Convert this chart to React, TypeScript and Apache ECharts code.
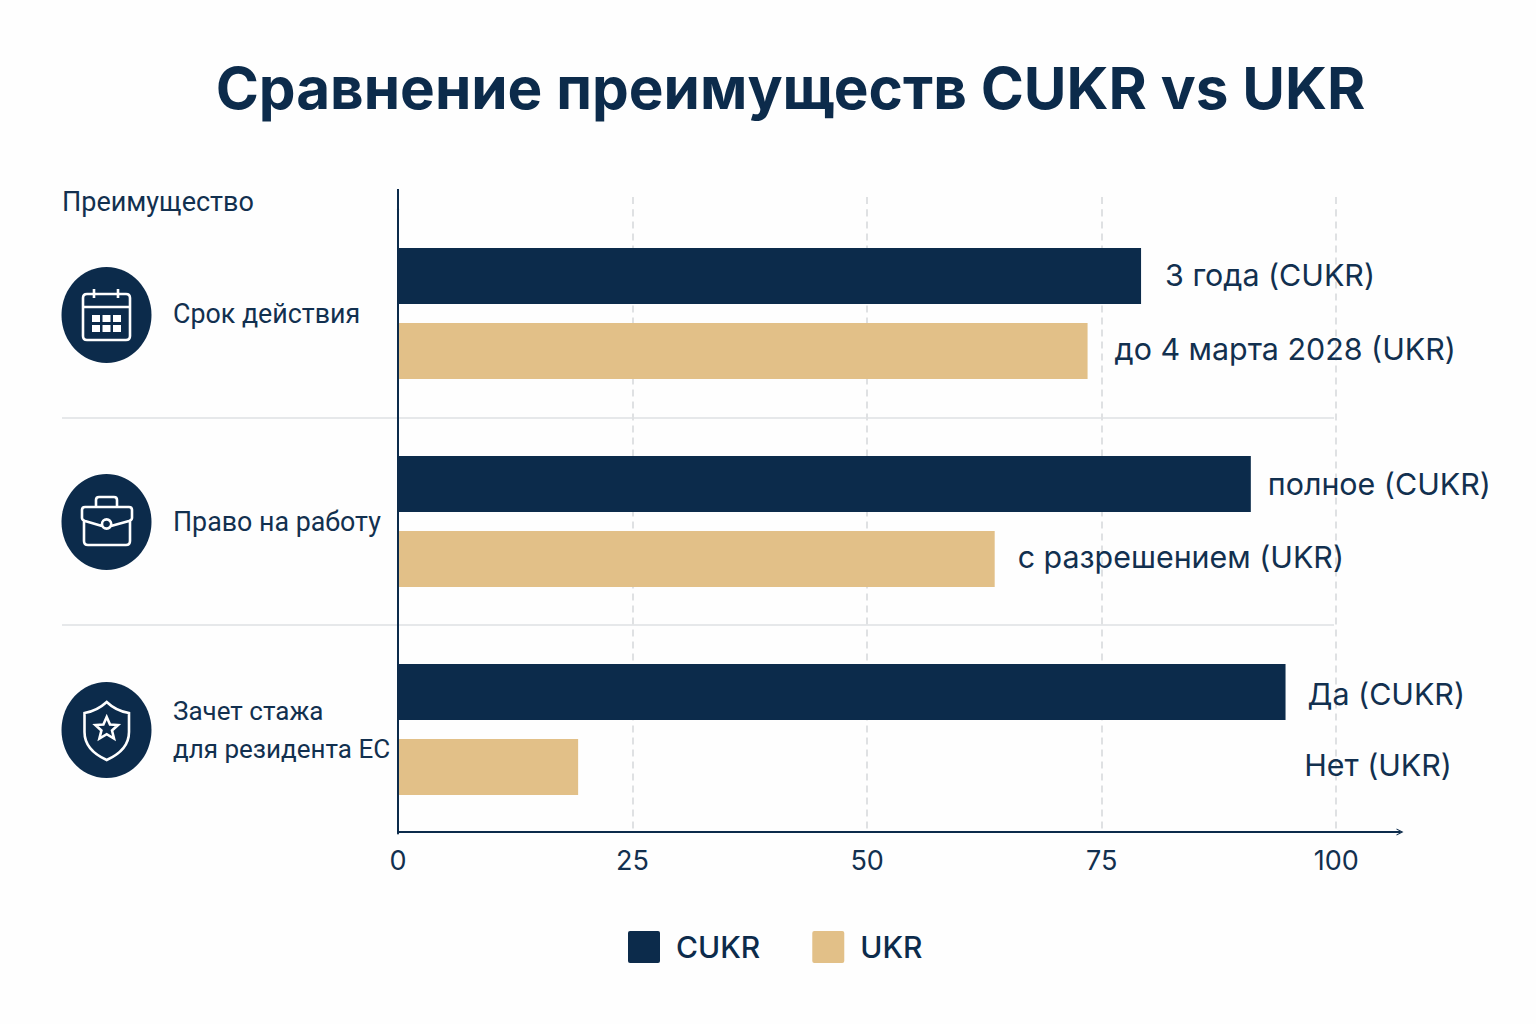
import React, { useEffect, useRef } from "react";
import * as echarts from "echarts";

const titleText = "Сравнение преимуществ CUKR vs UKR";
const axisHeading = "Преимущество";
const categories = ["Срок действия", "Право на работу", "Зачет стажа\nдля резидента ЕС"];
const seriesNames = ["CUKR", "UKR"];
const cukrValues = [79.2, 90.9, 94.6];
const ukrValues = [73.5, 63.6, 19.2];
const cukrLabels = ["3 года (CUKR)", "полное (CUKR)", "Да (CUKR)"];
const ukrLabels = ["до 4 марта 2028 (UKR)", "с разрешением (UKR)", "Нет (UKR)"];

const cukrGaps = [24, 17, 22];
const ukrGaps = [27, 23, 726];
const cukrShift = [-1, 0, 2];
const ukrShift = [-2, -2, -2];

const NAVY = "#0c2b4b";
const SAND = "#e2c088";
const TEXT = "#12304f";
const FONT = "Inter, 'Noto Sans', sans-serif";
const SIDE_FONT = "Roboto, 'Noto Sans', sans-serif";

const CAL_D =
  "M87 294 H126 Q130 294 130 298 V336 Q130 340 126 340 H87 Q83 340 83 336 V298 Q83 294 87 294 Z M83 307 H130 M94 289 V298 M118 289 V298";
const CAL_CELLS_D =
  "M92 315 H100 V322 H92 Z M102.5 315 H110.5 V322 H102.5 Z M113 315 H121 V322 H113 Z " +
  "M92 325 H100 V332 H92 Z M102.5 325 H110.5 V332 H102.5 Z M113 325 H121 V332 H113 Z";
const CASE_D =
  "M111 526 L129 521 Q132 520 132 518 V510 Q132 507 129 507 H85 Q82 507 82 510 V518 Q82 520 85 521 L102 526 " +
  "M84 521 V541 Q84 545 88 545 H126 Q130 545 130 541 V521 " +
  "M96 507 V500 Q96 497 99 497 H114 Q117 497 117 500 V507 " +
  "M102 524 A4.6 4.6 0 1 0 111.2 524 A4.6 4.6 0 1 0 102 524 Z";
const SHIELD_D =
  "M106.7 702 Q116 711 129 713 V732 Q129 750 106.7 760 Q84.5 750 84.5 732 V713 Q97 711 106.7 702 Z " +
  "M106.7 717 L110 724.5 L118 725 L112 730.5 L114 738.5 L106.7 734.2 L99.4 738.5 L101.4 730.5 L95.4 725 L103.4 724.5 Z";

echarts.graphic.registerShape("calIcon", echarts.graphic.extendPath(CAL_D, {}));
echarts.graphic.registerShape("calCells", echarts.graphic.extendPath(CAL_CELLS_D, {}));
echarts.graphic.registerShape("caseIcon", echarts.graphic.extendPath(CASE_D, {}));
echarts.graphic.registerShape("shieldIcon", echarts.graphic.extendPath(SHIELD_D, {}));

const ARROW = "path://M0,10 L5,0 L10,10 L8.4,10 L5,3.4 L1.6,10 Z";
const SWATCH = "path://M2,0 H30 Q32,0 32,2 V30 Q32,32 30,32 H2 Q0,32 0,30 V2 Q0,0 2,0 Z";

export default function App() {
  const ref = useRef<HTMLDivElement>(null);
  useEffect(() => {
    document.body.style.margin = "0";
    const chart = echarts.init(ref.current!, null, { renderer: "svg" });
    const iconStyle = { fill: "none", stroke: "#ffffff", lineWidth: 2.6 };
    const sep = (y: number) => ({
      type: "line",
      z: -1,
      shape: { x1: 62, y1: y, x2: 1334, y2: y },
      style: { stroke: "#e6e8ea", lineWidth: 2 },
    });
    const tickExt = (x: number) => ({
      type: "line",
      z: -1,
      shape: { x1: x, y1: 197, x2: x, y2: 209.5 },
      style: { stroke: "#dfe1e3", lineWidth: 2, lineDash: [7, 5] },
    });
    const barLabel = (text: string, gap: number, shift: number) => ({
      show: true,
      position: "right",
      distance: gap,
      offset: [0, shift],
      formatter: text,
      color: TEXT,
      fontSize: 30.4,
      fontFamily: FONT,
    });
    chart.setOption({
      animation: false,
      backgroundColor: "#fefefe",
      title: {
        text: titleText,
        left: 785.5,
        top: 53,
        textAlign: "center",
        textStyle: { color: NAVY, fontSize: 58.4, fontWeight: 700, fontFamily: FONT },
      },
      legend: {
        left: 628,
        top: 931,
        padding: 0,
        itemWidth: 32,
        itemHeight: 32,
        itemGap: 52,
        icon: SWATCH,
        data: seriesNames,
        textStyle: { color: NAVY, fontSize: 30, fontWeight: 500, fontFamily: FONT, padding: [0, 0, 0, 11] },
      },
      grid: { left: 398, right: 136, top: 209.5, bottom: 190.5, containLabel: false },
      xAxis: {
        type: "value",
        min: 0,
        max: 106.8,
        interval: 25,
        offset: -1.5,
        axisLine: {
          show: true,
          lineStyle: { color: NAVY, width: 2 },
          symbol: ["none", ARROW],
          symbolSize: [12, 7],
        },
        axisTick: { show: false },
        axisLabel: {
          color: TEXT,
          fontSize: 27,
          fontFamily: FONT,
          margin: 15,
          showMaxLabel: false,
        },
        splitLine: {
          show: true,
          showMinLine: false,
          showMaxLine: false,
          lineStyle: { color: "#dfe1e3", width: 2, type: [7, 5] },
        },
      },
      yAxis: {
        type: "category",
        inverse: true,
        data: categories,
        z: 5,
        axisLine: { show: true, lineStyle: { color: NAVY, width: 2 } },
        axisTick: { show: false },
        axisLabel: {
          color: TEXT,
          fontSize: 26.8,
          fontFamily: SIDE_FONT,
          lineHeight: 38,
          align: "left",
          margin: 225,
          formatter: (value: string) =>
            value.includes("\n")
              ? value
                  .split("\n")
                  .map((line) => `{tight|${line}}`)
                  .join("\n")
              : value,
          rich: {
            tight: { color: TEXT, fontSize: 26, fontFamily: SIDE_FONT, lineHeight: 38, align: "left" },
          },
        },
      },
      series: [
        {
          name: seriesNames[0],
          type: "bar",
          barWidth: 56,
          barGap: "34%",
          itemStyle: { color: NAVY },
          data: cukrValues.map((value, i) => ({
            value,
            label: barLabel(cukrLabels[i], cukrGaps[i], cukrShift[i]),
          })),
        },
        {
          name: seriesNames[1],
          type: "bar",
          barWidth: 56,
          itemStyle: { color: SAND },
          data: ukrValues.map((value, i) => ({
            value,
            label: barLabel(ukrLabels[i], ukrGaps[i], ukrShift[i]),
          })),
        },
      ],
      graphic: [
        sep(418),
        sep(625),
        tickExt(633),
        tickExt(867),
        tickExt(1102),
        tickExt(1336),
        {
          type: "line",
          shape: { x1: 398, y1: 189, x2: 398, y2: 210 },
          style: { stroke: NAVY, lineWidth: 2 },
        },
        {
          type: "text",
          x: 62,
          y: 188,
          style: { text: axisHeading, fill: TEXT, fontSize: 27, fontFamily: SIDE_FONT },
        },
        { type: "ellipse", shape: { cx: 106.5, cy: 315, rx: 45, ry: 48 }, style: { fill: NAVY } },
        { type: "ellipse", shape: { cx: 106.5, cy: 522, rx: 45, ry: 48 }, style: { fill: NAVY } },
        { type: "ellipse", shape: { cx: 106.5, cy: 730, rx: 45, ry: 48 }, style: { fill: NAVY } },
        { type: "calIcon", style: iconStyle },
        { type: "calCells", style: { fill: "#ffffff" } },
        { type: "caseIcon", style: iconStyle },
        { type: "shieldIcon", style: iconStyle },
      ],
    });
    return () => chart.dispose();
  }, []);
  return <div ref={ref} style={{ width: 1536, height: 1024 }} />;
}
